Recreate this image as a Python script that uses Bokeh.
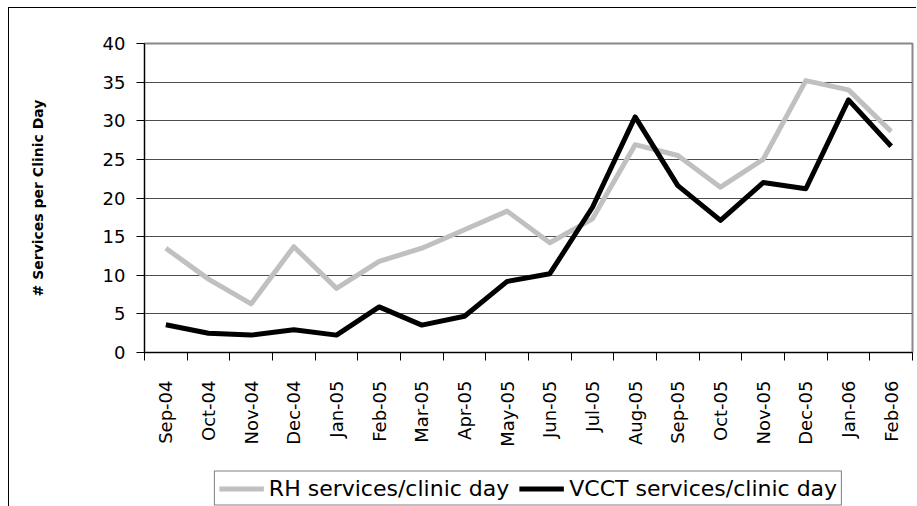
import math
from bokeh.plotting import figure
from bokeh.layouts import column
from bokeh.models import (Range1d, FixedTicker, Legend, LegendItem,
                          ColumnDataSource, InlineStyleSheet)
from bokeh.embed import file_html
from bokeh.resources import INLINE

months = ["Sep-04", "Oct-04", "Nov-04", "Dec-04", "Jan-05", "Feb-05",
          "Mar-05", "Apr-05", "May-05", "Jun-05", "Jul-05", "Aug-05",
          "Sep-05", "Oct-05", "Nov-05", "Dec-05", "Jan-06", "Feb-06"]
rh_services = [13.5, 9.5, 6.3, 13.7, 8.3, 11.8, 13.5, 15.9, 18.3, 14.2,
               17.3, 26.9, 25.5, 21.4, 25.0, 35.2, 34.0, 28.6]
vcct_services = [3.6, 2.5, 2.25, 2.95, 2.25, 5.9, 3.55, 4.7, 9.2, 10.2,
                 18.8, 30.5, 21.6, 17.1, 22.0, 21.2, 32.7, 26.7]
y_ticks = [0, 5, 10, 15, 20, 25, 30, 35, 40]
series_labels = ["RH services/clinic day", "VCCT services/clinic day"]
series_colors = ["#c0c0c0", "black"]

xpos = [i + 0.5 for i in range(len(months))]
src = ColumnDataSource(dict(x=xpos, rh=rh_services, vcct=vcct_services))

FONT = "DejaVu Sans"

p = figure(frame_width=768, frame_height=309, output_backend="svg",
           toolbar_location=None,
           x_range=Range1d(0, len(months)), y_range=Range1d(0, 40),
           min_border_left=135, min_border_right=4, min_border_top=35,
           min_border_bottom=118)

p.background_fill_color = "white"
p.border_fill_color = "white"
p.outline_line_color = "#888888"
p.outline_line_width = 2

p.line("x", "rh", source=src, line_color=series_colors[0], line_width=5,
       line_join="round")
p.line("x", "vcct", source=src, line_color=series_colors[1], line_width=5,
       line_join="round")

# x axis: labels at category centres, ticks at category boundaries
xa = p.xaxis[0]
xa.ticker = FixedTicker(ticks=xpos, minor_ticks=list(range(len(months) + 1)))
xa.major_label_overrides = {x: m for x, m in zip(xpos, months)}
xa.major_label_orientation = math.pi / 2
xa.major_tick_out = 0
xa.major_tick_in = 0
xa.minor_tick_out = 8
xa.minor_tick_in = 0
xa.minor_tick_line_color = "black"
xa.axis_line_color = "black"
xa.major_label_standoff = 20
xa.major_label_text_font = FONT
xa.major_label_text_font_size = "18px"
xa.major_label_text_color = "black"
xa.axis_label = None

ya = p.yaxis[0]
ya.ticker = FixedTicker(ticks=y_ticks)
ya.major_tick_out = 8
ya.major_tick_in = 0
ya.minor_tick_out = 0
ya.minor_tick_in = 0
ya.major_tick_line_color = "black"
ya.axis_line_color = "black"
ya.major_label_standoff = 11
ya.major_label_text_font = FONT
ya.major_label_text_font_size = "18px"
ya.major_label_text_color = "black"
ya.axis_label = "# Services per Clinic Day"
ya.axis_label_text_font = FONT
ya.axis_label_text_font_size = "14px"
ya.axis_label_text_font_style = "bold"
ya.axis_label_text_color = "black"
ya.axis_label_standoff = 54

p.xgrid.grid_line_color = None
p.ygrid.grid_line_color = "#4d4d4d"
p.ygrid.grid_line_width = 1

# legend strip below the chart (its line renderers lie outside its range)
p2 = figure(frame_width=768, frame_height=36, output_backend="svg",
            toolbar_location=None, x_axis_type=None, y_axis_type=None,
            x_range=Range1d(0, len(months)), y_range=Range1d(1000, 1001),
            min_border_left=135, min_border_right=4, min_border_top=0,
            min_border_bottom=0)
p2.outline_line_color = None
p2.background_fill_color = "white"
p2.border_fill_color = "white"
lr1 = p2.line("x", "rh", source=src, line_color=series_colors[0], line_width=5)
lr2 = p2.line("x", "vcct", source=src, line_color=series_colors[1], line_width=5)

legend = Legend(items=[LegendItem(label=series_labels[0], renderers=[lr1]),
                       LegendItem(label=series_labels[1], renderers=[lr2])],
                orientation="horizontal", location="center",
                glyph_width=45, glyph_height=20, label_standoff=5, spacing=10,
                padding=4, margin=0, border_line_color="black",
                border_line_width=1, label_text_font=FONT,
                label_text_font_size="22px", label_text_color="black",
                background_fill_color="white", background_fill_alpha=1)
p2.add_layout(legend, "center")

layout = column(p, p2, spacing=0)
layout.stylesheets = [InlineStyleSheet(css=":host { margin-left: 8px; margin-top: 7px; border-top: 1px solid #000; border-left: 1px solid #000; }")]

open("out.html", "w").write(file_html(layout, INLINE))
